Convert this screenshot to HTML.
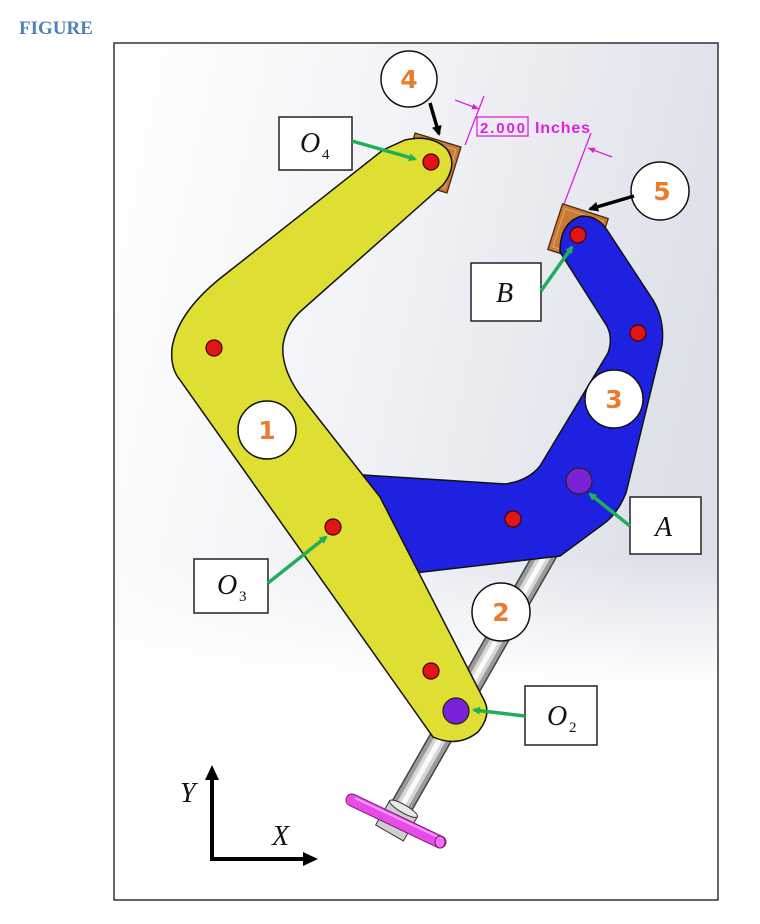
<!DOCTYPE html>
<html><head><meta charset="utf-8"><style>
html,body{margin:0;padding:0;background:#fff;width:760px;height:924px;overflow:hidden}
svg{position:absolute;left:0;top:0}
</style></head><body>
<svg width="760" height="924" viewBox="0 0 760 924" xmlns="http://www.w3.org/2000/svg">
<defs>
<linearGradient id="bg" x1="0" y1="0" x2="1" y2="0.3">
<stop offset="0" stop-color="#ffffff"/><stop offset="0.5" stop-color="#f1f2f6"/><stop offset="1" stop-color="#dde0e9"/>
</linearGradient>
<linearGradient id="bg2" x1="0" y1="0" x2="0" y2="1">
<stop offset="0" stop-color="#fff" stop-opacity="0"/><stop offset="0.6" stop-color="#fff" stop-opacity="0"/><stop offset="0.75" stop-color="#fff" stop-opacity="1"/><stop offset="1" stop-color="#fff" stop-opacity="1"/>
</linearGradient>
<marker id="ga" markerWidth="8" markerHeight="8" refX="6" refY="4" orient="auto" markerUnits="userSpaceOnUse"><path d="M0,0 L8,4 L0,8 Z" fill="#1fae5a"/></marker>
<marker id="ba" markerWidth="10" markerHeight="10" refX="8" refY="5" orient="auto" markerUnits="userSpaceOnUse"><path d="M0,0 L10,5 L0,10 Z" fill="#000"/></marker>
<marker id="ma" markerWidth="7" markerHeight="6" refX="7" refY="3" orient="auto" markerUnits="userSpaceOnUse"><path d="M0,0 L7,3 L0,6 Z" fill="#e020e0"/></marker>
</defs>
<text x="19" y="34" font-family="Liberation Serif, serif" font-weight="bold" font-size="19" fill="#4f81bd">FIGURE</text>
<rect x="114" y="43" width="604" height="857" fill="url(#bg)"/>
<rect x="114" y="43" width="604" height="857" fill="url(#bg2)"/>
<rect x="114" y="43" width="604" height="857" fill="none" stroke="#333" stroke-width="1.5"/>

<!-- rod -->
<line x1="548" y1="550" x2="395" y2="818" stroke="#444" stroke-width="23"/>
<line x1="548" y1="550" x2="395" y2="818" stroke="#9a9a9a" stroke-width="20"/>
<line x1="548" y1="550" x2="395" y2="818" stroke="#d6d6d6" stroke-width="12"/>
<line x1="548" y1="550" x2="395" y2="818" stroke="#fafafa" stroke-width="5"/>
<g transform="translate(397,820) rotate(30)">
<rect x="-16" y="-13" width="32" height="28" fill="#cfcfcf" stroke="#333" stroke-width="1"/>
<ellipse cx="0" cy="-13" rx="16" ry="4" fill="#e8e8e8" stroke="#333" stroke-width="1"/>
</g>
<line x1="352" y1="800" x2="440" y2="842" stroke="#7a1a7a" stroke-width="13" stroke-linecap="round"/>
<line x1="352" y1="800" x2="440" y2="842" stroke="#e84ce8" stroke-width="11" stroke-linecap="round"/>
<line x1="355" y1="798" x2="438" y2="837" stroke="#f8a0f8" stroke-width="2"/>
<ellipse cx="440" cy="842" rx="5" ry="6" fill="#f070f0" stroke="#7a1a7a" stroke-width="1"/>

<!-- brackets -->
<g transform="translate(431,163) rotate(17)"><rect x="-24" y="-24" width="48" height="48" fill="#c97a36" stroke="#4a2a0c" stroke-width="1.3"/><rect x="-20" y="-20" width="40" height="40" fill="none" stroke="#e9a66a" stroke-width="1"/></g>
<g transform="translate(578,234) rotate(18)"><rect x="-24" y="-24" width="48" height="48" fill="#c97a36" stroke="#4a2a0c" stroke-width="1.3"/><rect x="-20" y="-20" width="40" height="40" fill="none" stroke="#e9a66a" stroke-width="1"/></g>

<!-- blue link -->
<path d="M560,252 Q560,222 582,216 Q598,216 607,230 L653,300 Q665,320 662,345 L626,493 Q617,515 602,525 L560,556 L415,573 L363,475 L505,484 Q528,481 540,466 L608,353 Q614,336 605,323 Z" fill="#1e22e0" stroke="#111" stroke-width="1.5"/>
<!-- yellow link -->
<path d="M383,150 L227,273 Q178,310 172,348 Q170,368 180,380 L433,737 Q458,748 478,732 Q492,715 484,700 L380,497 L300,395 Q281,368 283,345 Q286,324 302,310 L443,185 Q459,164 446,148 Q430,134 405,140 Z" fill="#dede33" stroke="#111" stroke-width="1.5"/>

<!-- dots -->
<g fill="#e01515" stroke="#400" stroke-width="1.2">
<circle cx="431" cy="162" r="8"/><circle cx="578" cy="235" r="8"/><circle cx="214" cy="348" r="8"/>
<circle cx="638" cy="333" r="8"/><circle cx="333" cy="527" r="8"/><circle cx="513" cy="519" r="8"/><circle cx="431" cy="671" r="8"/>
</g>
<g fill="#7b22d8" stroke="#222" stroke-width="1.2">
<circle cx="579" cy="481" r="13"/><circle cx="456" cy="711" r="13"/>
</g>

<!-- numbered circles -->
<g fill="#fff" stroke="#111" stroke-width="1.5">
<circle cx="409" cy="79" r="28"/><circle cx="660" cy="191" r="29"/><circle cx="614" cy="399" r="29"/>
<circle cx="267" cy="430" r="29"/><circle cx="501" cy="612" r="29"/>
</g>
<g font-family="DejaVu Sans, sans-serif" font-weight="bold" font-size="25" fill="#e87d30" text-anchor="middle">
<text x="409" y="88">4</text><text x="662" y="200">5</text><text x="614" y="408">3</text>
<text x="267" y="439">1</text><text x="501" y="621">2</text>
</g>

<!-- label boxes -->
<g fill="#fff" stroke="#222" stroke-width="1.5">
<rect x="279" y="117" width="73" height="53"/><rect x="471" y="263" width="70" height="58"/>
<rect x="630" y="497" width="71" height="57"/><rect x="194" y="559" width="74" height="54"/>
<rect x="525" y="686" width="72" height="59"/>
</g>
<g font-family="Liberation Serif, serif" font-style="italic" font-size="28" fill="#111">
<text x="300" y="152">O</text><text x="322" y="159" font-size="15" font-style="normal">4</text>
<text x="496" y="302">B</text>
<text x="655" y="536">A</text>
<text x="217" y="594">O</text><text x="239" y="601" font-size="15" font-style="normal">3</text>
<text x="547" y="725">O</text><text x="569" y="732" font-size="15" font-style="normal">2</text>
</g>

<!-- green arrows -->
<g stroke="#1fae5a" stroke-width="3.5" fill="none">
<line x1="352" y1="141" x2="415" y2="159" marker-end="url(#ga)"/>
<line x1="541" y1="291" x2="572" y2="247" marker-end="url(#ga)"/>
<line x1="630" y1="526" x2="590" y2="494" marker-end="url(#ga)"/>
<line x1="268" y1="583" x2="326" y2="537" marker-end="url(#ga)"/>
<line x1="525" y1="716" x2="474" y2="710" marker-end="url(#ga)"/>
</g>
<!-- black arrows -->
<g stroke="#000" stroke-width="3.5">
<line x1="430" y1="103" x2="439" y2="134" marker-end="url(#ba)"/>
<line x1="634" y1="196" x2="590" y2="209" marker-end="url(#ba)"/>
</g>

<!-- dimension -->
<g stroke="#e020e0" stroke-width="1.3" fill="none">
<line x1="465" y1="145" x2="484" y2="96"/>
<line x1="564" y1="204" x2="591" y2="133"/>
<line x1="455" y1="100" x2="479" y2="109" marker-end="url(#ma)"/>
<line x1="612" y1="157" x2="588" y2="148" marker-end="url(#ma)"/>
<rect x="477" y="117" width="51" height="19"/>
</g>
<text x="480" y="133" font-family="Liberation Sans, sans-serif" font-weight="bold" font-size="15" fill="#e020e0" textLength="45">2.000</text>
<text x="535" y="133" font-family="Liberation Sans, sans-serif" font-weight="bold" font-size="16" fill="#e020e0" textLength="55">Inches</text>

<!-- axes -->
<g stroke="#000" stroke-width="4" fill="none">
<polyline points="212,778 212,859 305,859"/>
</g>
<path d="M205,780 L212,765 L219,780 Z" fill="#000"/>
<path d="M303,852 L318,859 L303,866 Z" fill="#000"/>
<text x="180" y="802" font-family="Liberation Serif, serif" font-style="italic" font-size="28" fill="#111">Y</text>
<text x="272" y="845" font-family="Liberation Serif, serif" font-style="italic" font-size="28" fill="#111">X</text>
</svg>
</body></html>
